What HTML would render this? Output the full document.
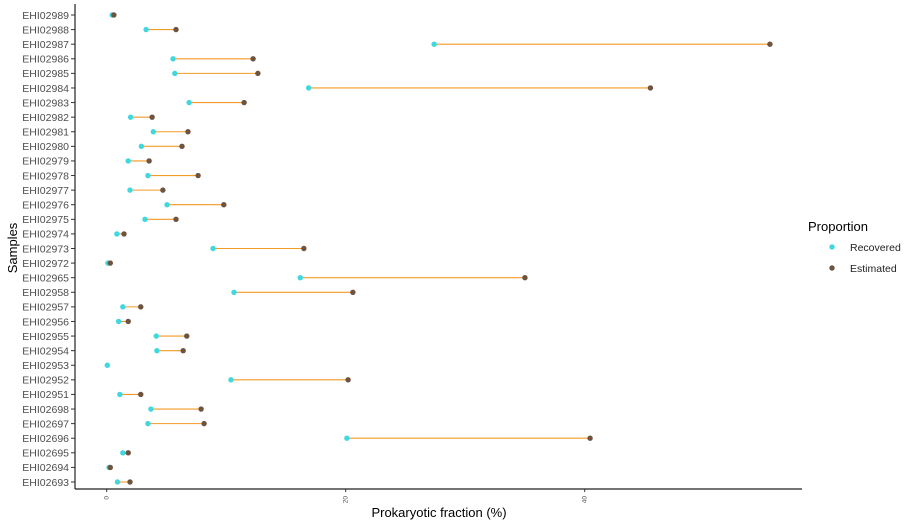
<!DOCTYPE html>
<html><head><meta charset="utf-8"><style>
body{margin:0;background:#fff;font-family:"Liberation Sans",Arial,sans-serif}
svg{display:block}
</style></head><body>
<svg id="chart" width="914" height="526">
<g id="plot"></g>
<line x1="75" y1="4" x2="75" y2="489" stroke="#222" stroke-width="1.2"/>
<line x1="75" y1="489" x2="802" y2="489" stroke="#222" stroke-width="1.2"/>
<g id="xticks"></g>
<g id="ylabels"></g>
<text x="439" y="517" text-anchor="middle" font-size="13" fill="#000">Prokaryotic fraction (%)</text>
<text transform="translate(17,248) rotate(-90)" text-anchor="middle" font-size="13" fill="#000">Samples</text>
<g>
<text x="808" y="231" font-size="13" fill="#000">Proportion</text>
<g><circle cx="832" cy="247" r="2.7" fill="#3fd8df"/><text x="850" y="251" font-size="10.5" fill="#222">Recovered</text></g>
<g><circle cx="832" cy="268" r="2.7" fill="#6e5440"/><text x="850" y="272" font-size="10.5" fill="#222">Estimated</text></g>
</g>
</svg>
<script>
const samples=["EHI02989","EHI02988","EHI02987","EHI02986","EHI02985","EHI02984","EHI02983","EHI02982","EHI02981","EHI02980","EHI02979","EHI02978","EHI02977","EHI02976","EHI02975","EHI02974","EHI02973","EHI02972","EHI02965","EHI02958","EHI02957","EHI02956","EHI02955","EHI02954","EHI02953","EHI02952","EHI02951","EHI02698","EHI02697","EHI02696","EHI02695","EHI02694","EHI02693"];
const recovered=[0.45,3.3,27.4,5.55,5.7,16.9,6.9,2.0,3.9,2.9,1.8,3.45,1.95,5.05,3.2,0.85,8.9,0.1,16.2,10.65,1.35,1.0,4.15,4.2,0.05,10.4,1.1,3.7,3.45,20.1,1.35,0.2,0.9];
const estimated=[0.6,5.8,55.5,12.25,12.65,45.5,11.5,3.8,6.8,6.3,3.55,7.65,4.7,9.8,5.8,1.45,16.5,0.3,35.0,20.6,2.85,1.8,6.7,6.4,null,20.2,2.85,7.9,8.15,40.45,1.8,0.3,1.95];
const xTicks=[0,20,40];
const NS="http://www.w3.org/2000/svg";
const x=v=>106.7+v*11.95;
const y=i=>15+i*(482-15)/(samples.length-1);
function mk(t,a,p){const e=document.createElementNS(NS,t);for(const k in a)e.setAttribute(k,a[k]);p.appendChild(e);return e;}
const plot=document.getElementById('plot'),yl=document.getElementById('ylabels'),xt=document.getElementById('xticks');
samples.forEach((s,i)=>{
  const t=mk('text',{x:69,y:y(i)+3.8,'text-anchor':'end','font-size':'10.5',fill:'#4d4d4d'},yl);
  t.textContent=s;
  
  
  mk('line',{x1:71,x2:75,y1:y(i),y2:y(i),stroke:'#333','stroke-width':1},yl);
  const g=mk('g',{},plot);
  
  
  if(estimated[i]!==null){
    const l=mk('line',{x1:x(recovered[i]),x2:x(estimated[i]),y1:y(i),y2:y(i),stroke:'#f39a26','stroke-width':1.1},g);
    
    
  }
  const c1=mk('circle',{cx:x(recovered[i]),cy:y(i),r:2.7,fill:'#3fd8df'},g);
  
  
  if(estimated[i]!==null){
    const c2=mk('circle',{cx:x(estimated[i]),cy:y(i),r:2.7,fill:'#6e5440'},g);
    
    
  }
});
xTicks.forEach(v=>{
  mk('line',{x1:x(v),x2:x(v),y1:489,y2:492,stroke:'#333','stroke-width':1},xt);
  const t=mk('text',{transform:`translate(${x(v)+2},496) rotate(-90)`,'text-anchor':'end','font-size':'6.5',fill:'#4d4d4d'},xt);
  t.textContent=v;
  
  
});
</script>
</body></html>
